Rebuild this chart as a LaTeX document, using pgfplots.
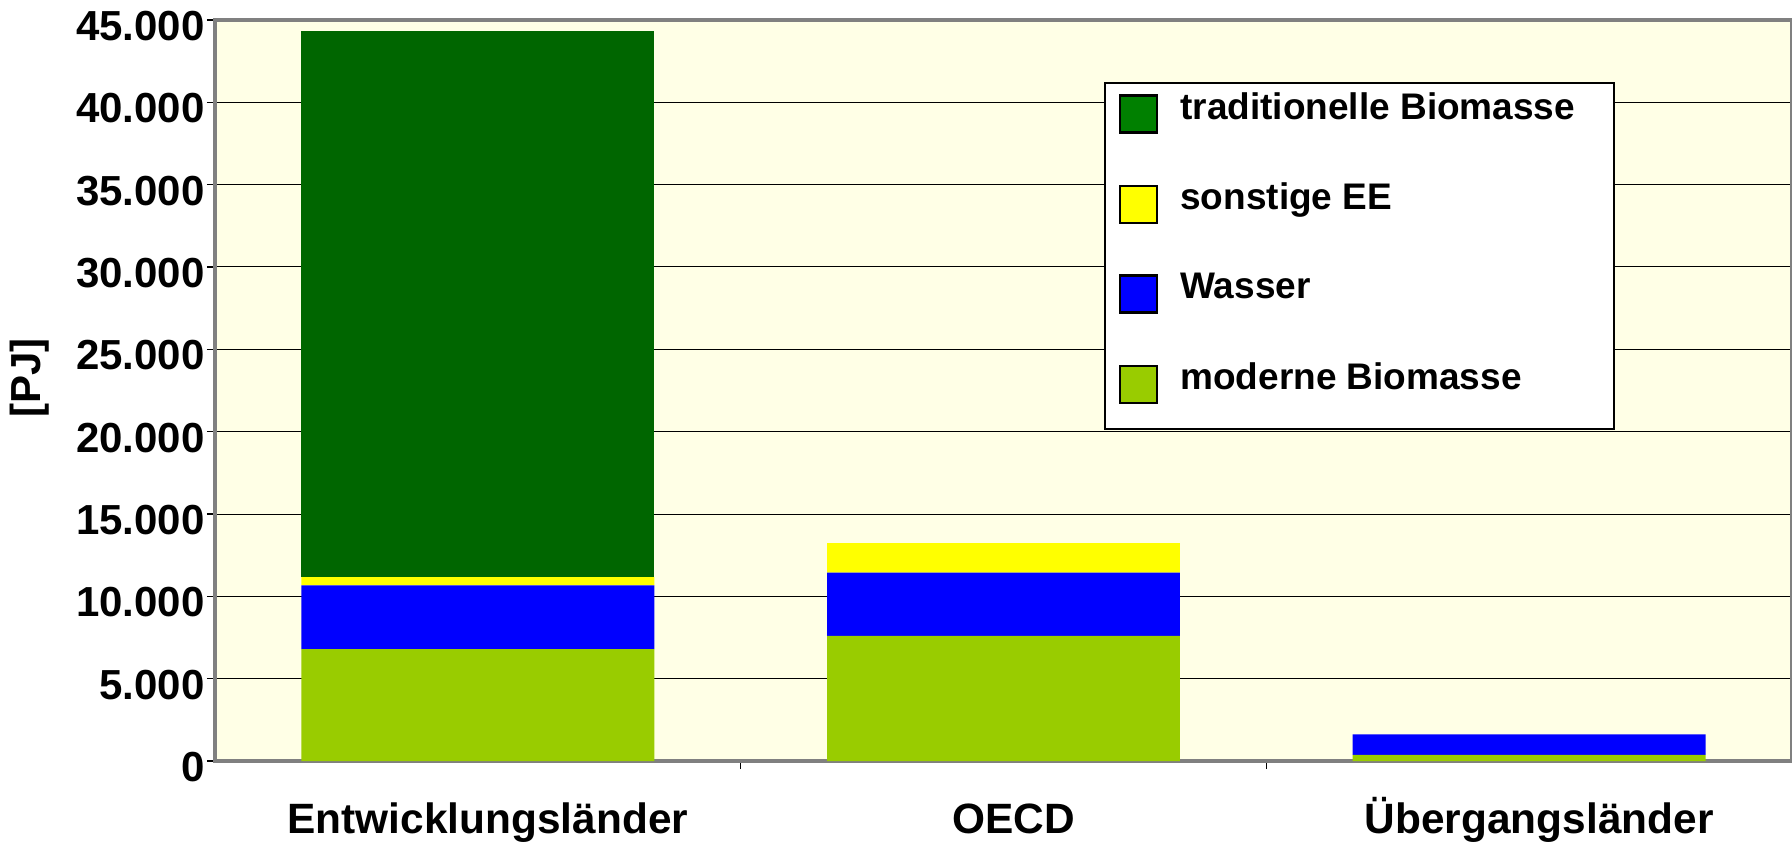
\documentclass[border=0pt]{standalone}
\usepackage{fontspec}
\setmainfont{Liberation Sans}
\usepackage{pgfplots}
\pgfplotsset{compat=1.18}
\definecolor{ivory}{HTML}{FFFFE6}
\definecolor{tradgreen}{HTML}{006600}
\definecolor{tradleg}{HTML}{008000}
\definecolor{modgreen}{HTML}{99CC00}
\definecolor{wblue}{HTML}{0000FF}
\definecolor{syellow}{HTML}{FFFF00}
\pgfplotsset{sq/.style={legend image code/.code={\draw[fill=#1,draw=black,line width=1.2bp] (0bp,-12.5bp) rectangle (18.5bp,6bp);}},
  sqlast/.style={legend image code/.code={\path (0bp,-22.5bp); \draw[fill=#1,draw=black,line width=1.2bp] (0bp,-12.5bp) rectangle (18.5bp,6bp);}}}
\begin{document}
\begin{tikzpicture}
\begin{axis}[
  scale only axis,
  width=788.5bp, height=370.5bp,
  ybar stacked, bar width=0.6715,
  xmin=-0.5, xmax=2.5,
  ymin=0, ymax=45000,
  xtick={0,1,2},
  xticklabels={Entwicklungsländer,OECD,Übergangsländer},
  minor xtick={0.5,1.5},
  major x tick style={draw=none},
  minor x tick style={draw=black, line width=0.6bp},
  ytick={0,5000,10000,15000,20000,25000,30000,35000,40000,45000},
  yticklabels={0,5.000,10.000,15.000,20.000,25.000,30.000,35.000,40.000,45.000},
  scaled y ticks=false,
  major y tick style={draw=black, line width=0.6bp},
  tick align=outside,
  major tick length=4bp, minor tick length=4bp,
  xtick pos=bottom, ytick pos=left,
  ymajorgrids,
  grid style={black, line width=0.5bp},
  axis background/.style={fill=ivory},
  axis line style={draw=gray, line width=1.6bp},
  yticklabel style={font=\fontsize{21bp}{25bp}\selectfont\bfseries, inner sep=1bp, yshift=-3bp},
  xticklabel style={font=\fontsize{21.2bp}{25bp}\selectfont\bfseries, inner sep=0pt, text height=16bp, text depth=5bp, yshift=-16bp, xshift=5bp},
  ylabel={[PJ]},
  ylabel style={font=\fontsize{21bp}{25bp}\selectfont\bfseries, at={(axis description cs:-0.1173,0.517)}, anchor=center},
  legend style={at={(rel axis cs:0.5637,0.9163)}, anchor=north west, draw=black, line width=1bp, fill=white,
    inner xsep=7bp, inner ysep=2.7bp, row sep=22.7bp, column sep=9bp,
    font=\fontsize{18.5bp}{21bp}\selectfont\bfseries},
  legend cell align=left,
]
\addlegendimage{sq=tradleg}
\addlegendentry{\makebox[208bp][l]{traditionelle Biomasse}}
\addlegendimage{sq=syellow}
\addlegendentry{sonstige EE}
\addlegendimage{sq=wblue}
\addlegendentry{Wasser}
\addlegendimage{sqlast=modgreen}
\addlegendentry{moderne Biomasse}
\addplot[fill=modgreen, draw=none, forget plot] coordinates {(0,6800) (1,7600) (2,370)};
\addplot[fill=wblue, draw=none, forget plot] coordinates {(0,3870) (1,3840) (2,1250)};
\addplot[fill=syellow, draw=none, forget plot] coordinates {(0,500) (1,1790) (2,0)};
\addplot[fill=tradgreen, draw=none, forget plot] coordinates {(0,33180) (1,0) (2,0)};
\end{axis}
\pgfresetboundingbox
\useasboundingbox (-107.5bp,-40.5bp) rectangle (788.5bp,380.5bp);
\end{tikzpicture}
\end{document}
